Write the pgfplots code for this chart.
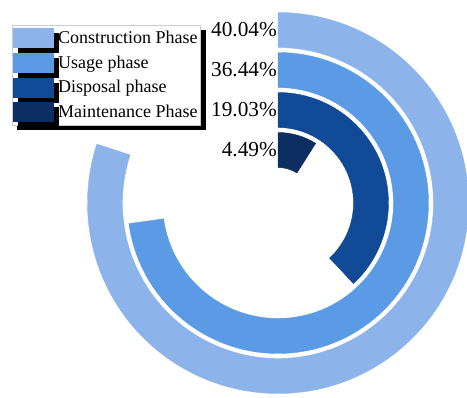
\documentclass[border=0pt]{standalone}
\usepackage{fontspec}
\setmainfont{Liberation Serif}
\usepackage{pgfplots}
\pgfplotsset{compat=1.18}
\usetikzlibrary{shadows}
\definecolor{c1}{HTML}{8CB4EA}
\definecolor{c2}{HTML}{5B9BE6}
\definecolor{c3}{HTML}{114A96}
\definecolor{c4}{HTML}{0C2E62}
\pgfdeclareplotmark{blank}{}
\pgfplotsset{
  ring/.style={
    scatter, only marks, mark=blank,
    visualization depends on={value \thisrow{radius} \as \rad},
    visualization depends on={value \thisrow{value} \as \val},
    scatter/@pre marker code/.code={%
      \pgfmathsetmacro{\ang}{\val/40.04*288}%
      \pgfmathsetmacro{\ro}{\rad+17.5}%
      \pgfmathsetmacro{\ri}{\rad-17.5}%
      \pgfmathsetmacro{\ea}{90-\ang}%
      \node[anchor=east, inner sep=0pt, text=black, font=\fontsize{21.3}{23}\selectfont] at (canvas cs:x=-1pt,y=0pt) {\val\%};
      \pgftransformshift{\pgfpoint{0pt}{-\rad pt}}%
      \fill[#1] (canvas polar cs:angle=90,radius=\ro pt) arc[start angle=90, end angle=\ea, radius=\ro pt]
          -- (canvas polar cs:angle=\ea,radius=\ri pt) arc[start angle=\ea, end angle=90, radius=\ri pt] -- cycle;
    },
    scatter/@post marker code/.code={},
    legend image code/.code={\fill[#1] (0pt,-9.5pt) rectangle (40pt,9.5pt);},
  },
}
\begin{document}
\begin{tikzpicture}
\begin{axis}[
  x=1pt, y=1pt,
  xmin=-278, xmax=189, ymin=-195, ymax=203,
  scale only axis, hide axis, clip=false,
  legend cell align=left,
  legend style={at={(0.0257,0.938)}, anchor=north west,
    draw=gray!40, fill=white,
    font=\fontsize{18}{20}\selectfont,
    drop shadow={shadow xshift=5pt, shadow yshift=-5pt, opacity=1, fill=black},
    inner xsep=1pt, inner ysep=3.5pt, row sep=5.3pt,
    /tikz/every odd column/.append style={column sep=2.5pt}},
]
\addplot[ring=c1] table {
x radius value
0 173 40.04
};
\addlegendentry{Construction Phase}
\addplot[ring=c2] table {
x radius value
0 133 36.44
};
\addlegendentry{Usage phase}
\addplot[ring=c3] table {
x radius value
0 93 19.03
};
\addlegendentry{Disposal phase}
\addplot[ring=c4] table {
x radius value
0 53 4.49
};
\addlegendentry{Maintenance Phase}
\end{axis}
\pgfresetboundingbox
\path (current axis.south west) rectangle (current axis.north east);
\end{tikzpicture}
\end{document}
